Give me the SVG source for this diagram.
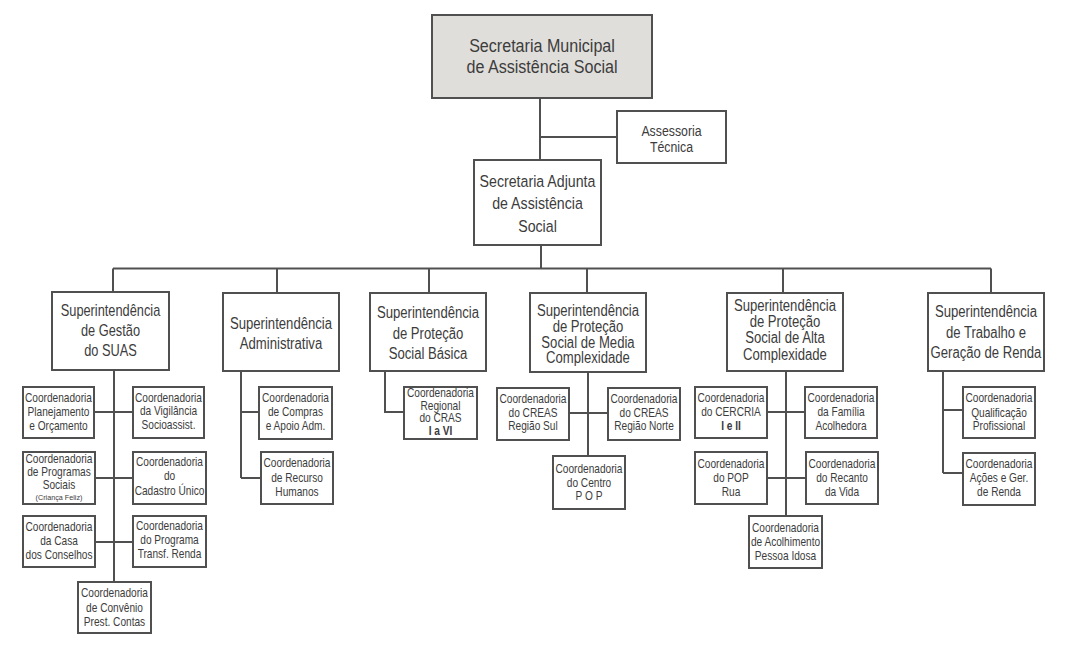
<svg xmlns="http://www.w3.org/2000/svg" width="1070" height="650" viewBox="0 0 1070 650">
<style>
.b{fill:#fff;stroke:#505050;stroke-width:2}
.bt{fill:#e0dedb;stroke:#505050;stroke-width:2}
.c{fill:none;stroke:#505050;stroke-width:2}
text{font-family:"Liberation Sans",Arial,sans-serif;fill:#3c3c3c;text-anchor:middle}
.tt{font-size:18.5px}
.ta{font-size:16.5px}
.tas{font-size:14.5px}
.ts{font-size:16px}
.tc{font-size:12.5px}
.tx{font-size:8px}
.bd{font-weight:bold}
</style>
<rect width="1070" height="650" fill="#fff"/>
<g id="connectors">
<path class="c" d="M540 98V160M540 137H617M541 245V268.5M113 268.5H991M113 268.5V292M277 268.5V293M429 268.5V293M587 268.5V293M783 268.5V293M991 268.5V293"/>
<path class="c" d="M114 370V582M94 412H133M95 478H133M95 542H133"/>
<path class="c" d="M241 371V478M241 412H259M241 478H261"/>
<path class="c" d="M385 371V412H404"/>
<path class="c" d="M588 372V456M569 413H608"/>
<path class="c" d="M786 371V516M767 412H805M767 478H806"/>
<path class="c" d="M943 371V473M943 410H963M943 473H963"/>
</g>
<g id="secretaria-municipal"><rect class="bt" x="432" y="15" width="220" height="83"/>
<text class="tt" transform="translate(542 0) scale(0.87 1)"><tspan x="0" y="52">Secretaria Municipal</tspan><tspan x="0" y="73">de Assistência Social</tspan></text></g>
<g id="assessoria"><rect class="b" x="617" y="111" width="109" height="52"/>
<text class="tas" transform="translate(671.5 0) scale(0.85 1)"><tspan x="0" y="136">Assessoria</tspan><tspan x="0" y="152">Técnica</tspan></text></g>
<g id="secretaria-adjunta"><rect class="b" x="474" y="160" width="127" height="85"/>
<text class="ta" transform="translate(537.5 0) scale(0.86 1)"><tspan x="0" y="187">Secretaria Adjunta</tspan><tspan x="0" y="209">de Assistência</tspan><tspan x="0" y="232">Social</tspan></text></g>

<g id="sup-gestao"><rect class="b" x="52" y="292" width="117" height="78"/>
<text class="ts" transform="translate(110.5 0) scale(0.8 1)"><tspan x="0" y="316">Superintendência</tspan><tspan x="0" y="336">de Gestão</tspan><tspan x="0" y="356">do SUAS</tspan></text></g>
<g id="sup-admin"><rect class="b" x="223" y="293" width="116" height="78"/>
<text class="ts" transform="translate(281 0) scale(0.82 1)"><tspan x="0" y="329">Superintendência</tspan><tspan x="0" y="349">Administrativa</tspan></text></g>
<g id="sup-basica"><rect class="b" x="370" y="293" width="116" height="78"/>
<text class="ts" transform="translate(428 0) scale(0.82 1)"><tspan x="0" y="318">Superintendência</tspan><tspan x="0" y="339">de Proteção</tspan><tspan x="0" y="359">Social Básica</tspan></text></g>
<g id="sup-media"><rect class="b" x="530" y="293" width="116" height="79"/>
<text class="ts" transform="translate(588 0) scale(0.82 1)"><tspan x="0" y="316">Superintendência</tspan><tspan x="0" y="332">de Proteção</tspan><tspan x="0" y="348">Social de Media</tspan><tspan x="0" y="363.5">Complexidade</tspan></text></g>
<g id="sup-alta"><rect class="b" x="727" y="293" width="116" height="78"/>
<text class="ts" transform="translate(785 0) scale(0.82 1)"><tspan x="0" y="311">Superintendência</tspan><tspan x="0" y="327">de Proteção</tspan><tspan x="0" y="343.5">Social de Alta</tspan><tspan x="0" y="360">Complexidade</tspan></text></g>
<g id="sup-trabalho"><rect class="b" x="928" y="293" width="116" height="78"/>
<text class="ts" transform="translate(986 0) scale(0.82 1)"><tspan x="0" y="317">Superintendência</tspan><tspan x="0" y="338">de Trabalho e</tspan><tspan x="0" y="358">Geração de Renda</tspan></text></g>

<g id="coord-planejamento"><rect class="b" x="23" y="387" width="71" height="51"/>
<text class="tc" transform="translate(58.5 0) scale(0.81 1)"><tspan x="0" y="402.5">Coordenadoria</tspan><tspan x="0" y="416">Planejamento</tspan><tspan x="0" y="430">e Orçamento</tspan></text></g>
<g id="coord-vigilancia"><rect class="b" x="133" y="387" width="71" height="51"/>
<text class="tc" transform="translate(168.5 0) scale(0.81 1)"><tspan x="0" y="402">Coordenadoria</tspan><tspan x="0" y="415.5">da Vigilância</tspan><tspan x="0" y="429">Socioassist.</tspan></text></g>
<g id="coord-programas"><rect class="b" x="23" y="452" width="72" height="52"/>
<text class="tc" transform="translate(59 0) scale(0.81 1)"><tspan x="0" y="463.5">Coordenadoria</tspan><tspan x="0" y="476.5">de Programas</tspan><tspan x="0" y="489.5">Sociais</tspan></text>
<text class="tx" transform="translate(59 0) scale(0.9 1)"><tspan x="0" y="500.5">(Criança Feliz)</tspan></text></g>
<g id="coord-cadastro"><rect class="b" x="133" y="452" width="73" height="52"/>
<text class="tc" transform="translate(169.5 0) scale(0.81 1)"><tspan x="0" y="466.5">Coordenadoria</tspan><tspan x="0" y="480">do</tspan><tspan x="0" y="495">Cadastro Único</tspan></text></g>
<g id="coord-casa"><rect class="b" x="23" y="516" width="72" height="51"/>
<text class="tc" transform="translate(59 0) scale(0.81 1)"><tspan x="0" y="531.5">Coordenadoria</tspan><tspan x="0" y="545.5">da Casa</tspan><tspan x="0" y="559.5">dos Conselhos</tspan></text></g>
<g id="coord-transf"><rect class="b" x="133" y="516" width="73" height="51"/>
<text class="tc" transform="translate(169.5 0) scale(0.81 1)"><tspan x="0" y="530.5">Coordenadoria</tspan><tspan x="0" y="544.5">do Programa</tspan><tspan x="0" y="558.5">Transf. Renda</tspan></text></g>
<g id="coord-convenio"><rect class="b" x="78" y="582" width="73" height="51"/>
<text class="tc" transform="translate(114.5 0) scale(0.81 1)"><tspan x="0" y="597.5">Coordenadoria</tspan><tspan x="0" y="612">de Convênio</tspan><tspan x="0" y="626">Prest. Contas</tspan></text></g>

<g id="coord-compras"><rect class="b" x="259" y="387" width="73" height="52"/>
<text class="tc" transform="translate(295.5 0) scale(0.81 1)"><tspan x="0" y="402">Coordenadoria</tspan><tspan x="0" y="416.5">de Compras</tspan><tspan x="0" y="430">e Apoio Adm.</tspan></text></g>
<g id="coord-recurso"><rect class="b" x="261" y="452" width="72" height="52"/>
<text class="tc" transform="translate(297 0) scale(0.81 1)"><tspan x="0" y="467.5">Coordenadoria</tspan><tspan x="0" y="482">de Recurso</tspan><tspan x="0" y="496">Humanos</tspan></text></g>

<g id="coord-cras"><rect class="b" x="404" y="387" width="73" height="52"/>
<text class="tc" transform="translate(440.5 0) scale(0.81 1)"><tspan x="0" y="397.5">Coordenadoria</tspan><tspan x="0" y="410">Regional</tspan><tspan x="0" y="422">do CRAS</tspan><tspan x="0" y="435" class="bd">I a VI</tspan></text></g>

<g id="coord-creas-sul"><rect class="b" x="497" y="388" width="72" height="52"/>
<text class="tc" transform="translate(533 0) scale(0.81 1)"><tspan x="0" y="403.5">Coordenadoria</tspan><tspan x="0" y="417">do CREAS</tspan><tspan x="0" y="430.5">Região Sul</tspan></text></g>
<g id="coord-creas-norte"><rect class="b" x="608" y="388" width="72" height="52"/>
<text class="tc" transform="translate(644 0) scale(0.81 1)"><tspan x="0" y="403.5">Coordenadoria</tspan><tspan x="0" y="417">do CREAS</tspan><tspan x="0" y="430.5">Região Norte</tspan></text></g>
<g id="coord-centro-pop"><rect class="b" x="553" y="456" width="72" height="53"/>
<text class="tc" transform="translate(589 0) scale(0.81 1)"><tspan x="0" y="473">Coordenadoria</tspan><tspan x="0" y="487">do Centro</tspan><tspan x="0" y="500.5">P O P</tspan></text></g>

<g id="coord-cercria"><rect class="b" x="695" y="387" width="72" height="51"/>
<text class="tc" transform="translate(731 0) scale(0.81 1)"><tspan x="0" y="402.5">Coordenadoria</tspan><tspan x="0" y="416.5">do CERCRIA</tspan><tspan x="0" y="430.5" class="bd">I e II</tspan></text></g>
<g id="coord-familia"><rect class="b" x="805" y="387" width="72" height="51"/>
<text class="tc" transform="translate(841 0) scale(0.81 1)"><tspan x="0" y="402.5">Coordenadoria</tspan><tspan x="0" y="416.5">da Família</tspan><tspan x="0" y="430.5">Acolhedora</tspan></text></g>
<g id="coord-pop-rua"><rect class="b" x="695" y="452" width="72" height="52"/>
<text class="tc" transform="translate(731 0) scale(0.81 1)"><tspan x="0" y="468.5">Coordenadoria</tspan><tspan x="0" y="482.5">do POP</tspan><tspan x="0" y="496.5">Rua</tspan></text></g>
<g id="coord-recanto"><rect class="b" x="806" y="452" width="72" height="52"/>
<text class="tc" transform="translate(842 0) scale(0.81 1)"><tspan x="0" y="468.5">Coordenadoria</tspan><tspan x="0" y="482.5">do Recanto</tspan><tspan x="0" y="496.5">da Vida</tspan></text></g>
<g id="coord-acolhimento"><rect class="b" x="749" y="516" width="73" height="52"/>
<text class="tc" transform="translate(785.5 0) scale(0.81 1)"><tspan x="0" y="532.5">Coordenadoria</tspan><tspan x="0" y="546.5">de Acolhimento</tspan><tspan x="0" y="560">Pessoa Idosa</tspan></text></g>

<g id="coord-qualificacao"><rect class="b" x="963" y="387" width="72" height="51"/>
<text class="tc" transform="translate(999 0) scale(0.81 1)"><tspan x="0" y="402.5">Coordenadoria</tspan><tspan x="0" y="417">Qualificação</tspan><tspan x="0" y="430.5">Profissional</tspan></text></g>
<g id="coord-acoes"><rect class="b" x="963" y="453" width="72" height="52"/>
<text class="tc" transform="translate(999 0) scale(0.81 1)"><tspan x="0" y="468.5">Coordenadoria</tspan><tspan x="0" y="482.5">Ações e Ger.</tspan><tspan x="0" y="496.5">de Renda</tspan></text></g>
</svg>
